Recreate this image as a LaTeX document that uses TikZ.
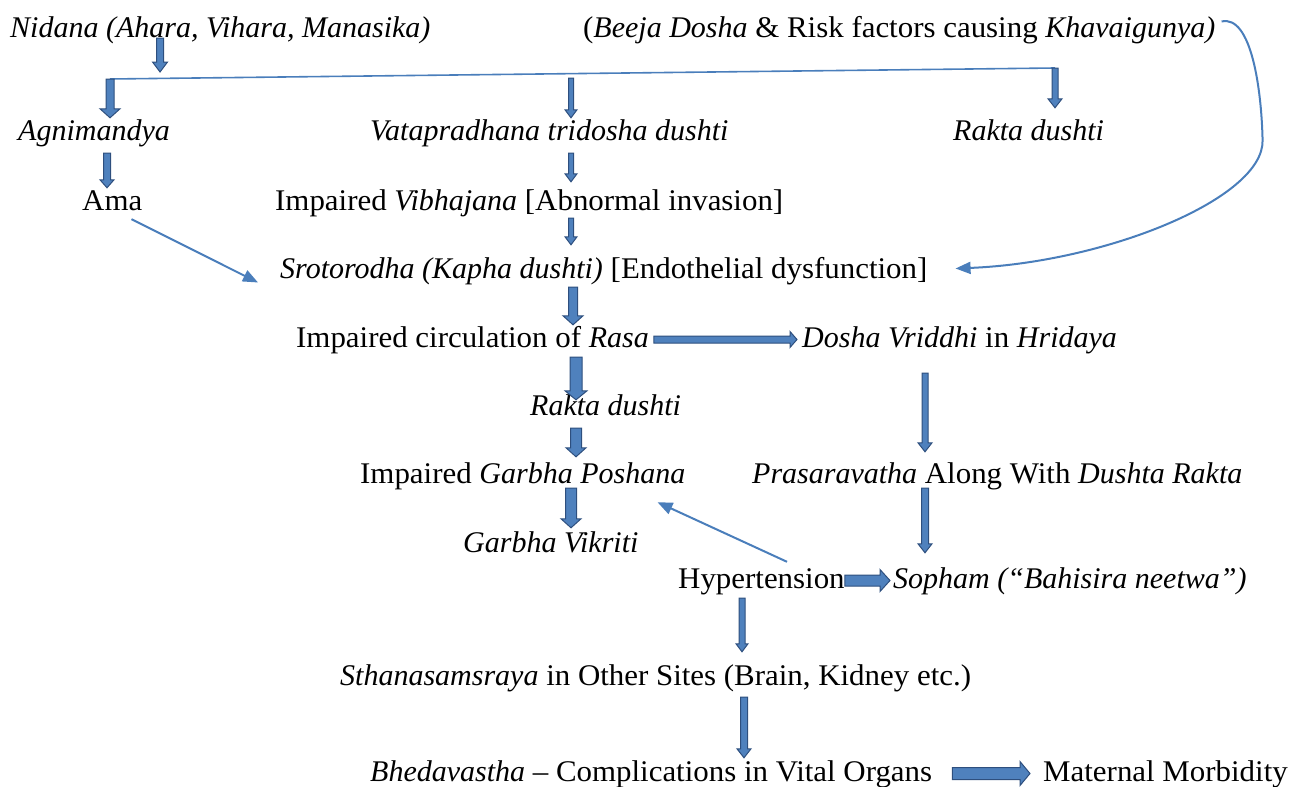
\documentclass[tikz,border=0pt]{standalone}
\usepackage{fontspec}
\setmainfont{Liberation Serif}[UprightFeatures={FakeStretch=1.03}]
\usetikzlibrary{calc,arrows.meta}
\definecolor{bfill}{HTML}{4F81BD}
\definecolor{bdr}{HTML}{2E4F7E}
\definecolor{thin}{HTML}{4A7EBB}
\newcommand\vblk[5]{\path[blk] let \p1=(#1), \p2=(#2) in
  (\x1-#3pt,\y1) -- (\x1+#3pt,\y1) -- (\x1+#3pt,\y2+#5pt) -- (\x1+#4pt,\y2+#5pt)
  -- (\x1,\y2) -- (\x1-#4pt,\y2+#5pt) -- (\x1-#3pt,\y2+#5pt) -- cycle;}
\newcommand\hblk[5]{\path[blk] let \p1=(#1), \p2=(#2) in
  (\x1,\y1+#3pt) -- (\x2-#5pt,\y1+#3pt) -- (\x2-#5pt,\y1+#4pt) -- (\x2,\y1)
  -- (\x2-#5pt,\y1-#4pt) -- (\x2-#5pt,\y1-#3pt) -- (\x1,\y1-#3pt) -- cycle;}
\begin{document}
\begin{tikzpicture}[x=1pt,y=-1pt,
  lbl/.style={font=\fontsize{30}{36}\selectfont, inner sep=0pt, text height=22pt, text depth=7pt, anchor=base west},
  blk/.style={draw=bdr, fill=bfill, line width=1pt, line join=miter},
  thinarrow/.style={draw=thin, line width=2pt, -{Triangle[length=15pt,width=12pt]}},
  thinline/.style={draw=thin, line width=1.6pt}]
\useasboundingbox (0,0) rectangle (1301,787);
% texts
\node[lbl] (nid) at (10,37) {\textit{Nidana (Ahara, Vihara, Manasika)}};
\node[lbl] (bee) at (583,37) {(\textit{Beeja Dosha} \& Risk factors causing \textit{Khavaigunya)}};
\node[lbl] (agni) at (18,140) {\textit{Agnimandya}};
\node[lbl] (vata) at (370,140) {\textit{Vatapradhana tridosha dushti}};
\node[lbl] (rak1) at (953,140) {\textit{Rakta dushti}};
\node[lbl] (ama) at (82,210) {Ama};
\node[lbl] (vib) at (275,210) {Impaired \textit{Vibhajana} [Abnormal invasion]};
\node[lbl] (sro) at (280,278) {\textit{Srotorodha (Kapha dushti)} [Endothelial dysfunction]};
\node[lbl] (ras) at (296,347) {Impaired circulation of \textit{Rasa}};
\node[lbl] (dos) at (802,347) {\textit{Dosha Vriddhi} in \textit{Hridaya}};
\node[lbl] (rak2) at (530,415) {\textit{Rakta dushti}};
\node[lbl] (gar) at (360,483) {Impaired \textit{Garbha Poshana}};
\node[lbl] (pra) at (752,483) {\textit{Prasaravatha} Along With \textit{Dushta Rakta}};
\node[lbl] (vik) at (463,552) {\textit{Garbha Vikriti}};
\node[lbl] (hyp) at (678,588) {Hypertension};
\node[lbl] (sop) at (893,588) {\textit{Sopham (“Bahisira neetwa”)}};
\node[lbl] (sth) at (340,685) {\textit{Sthanasamsraya} in Other Sites (Brain, Kidney etc.)};
\node[lbl] (bhe) at (370,781) {\textit{Bhedavastha} – Complications in Vital Organs};
\node[lbl] (mat) at (1043,781) {Maternal Morbidity};
% branch line
\coordinate (lnA) at (110,79);
\coordinate (lnB) at (1055,68);
\coordinate (lnV) at (571,78);
\coordinate (nidtip) at (160,72);
\draw[thinline] (lnA) -- (lnB);
% vertical block arrows
\vblk{[xshift=150pt,yshift=6pt]nid.south west}{nidtip}{3.5}{7.5}{10}
\vblk{lnA}{agni.north}{4}{10}{9}
\vblk{lnV}{vata.north}{2.5}{6}{8}
\vblk{lnB}{[yshift=10pt]rak1.north}{3}{7}{9}
\vblk{[xshift=89pt,yshift=-6pt]agni.south west}{ama.north}{3.5}{7}{8}
\vblk{[xshift=201pt,yshift=-6pt]vata.south west}{[yshift=6pt]vib.north}{2.5}{6}{8}
\vblk{[xshift=296pt,yshift=-1pt]vib.south west}{[yshift=11pt]sro.north}{2.5}{6}{8}
\vblk{[xshift=293pt,yshift=-2pt]sro.south west}{ras.north}{4.5}{10}{9}
\vblk{[xshift=280pt,yshift=-3pt]ras.south west}{[yshift=-7pt]rak2.north}{6}{11}{9}
\vblk{[xshift=46pt,yshift=-6pt]rak2.south west}{[yshift=4pt]gar.north}{5.5}{10}{9}
\vblk{[xshift=211pt,yshift=2pt]gar.south west}{[yshift=2pt]vik.north}{5.5}{10}{9}
\vblk{[xshift=123pt,yshift=-19pt]dos.south west}{[yshift=9pt]pra.north}{3}{7}{9}
\vblk{[xshift=173pt,yshift=2pt]pra.south west}{[yshift=13pt]sop.north}{3.5}{7}{9}
\vblk{[xshift=64pt,yshift=-3pt]hyp.south west}{[yshift=11pt]sth.north}{3}{6}{8}
\vblk{[xshift=404pt,yshift=-5pt]sth.south west}{[yshift=1pt]bhe.north}{3.5}{7}{9}
% horizontal block arrows
\hblk{[xshift=5pt]ras.east}{[xshift=-5pt]dos.west}{3.5}{8}{7}
\hblk{hyp.east}{[xshift=-3pt]sop.west}{5.5}{11}{10}
\hblk{[xshift=20pt]bhe.east}{[xshift=-13pt]mat.west}{6}{12}{10}
% thin arrows
\draw[thinarrow] ([xshift=-11pt,yshift=-2pt]ama.south east) -- ([xshift=-22pt,yshift=-12pt]sro.west);
\draw[thinarrow] ([xshift=109pt,yshift=4pt]hyp.north west) -- ([xshift=-28pt,yshift=-12pt]gar.south east);
\draw[thinarrow] ([xshift=6pt,yshift=8pt]bee.east) .. controls +(30,-7) and +(-1,-50) .. ++(41,119)
  .. controls +(1,58) and +(150,-6) .. ([xshift=28pt,yshift=2pt]sro.east);
\end{tikzpicture}
\end{document}
